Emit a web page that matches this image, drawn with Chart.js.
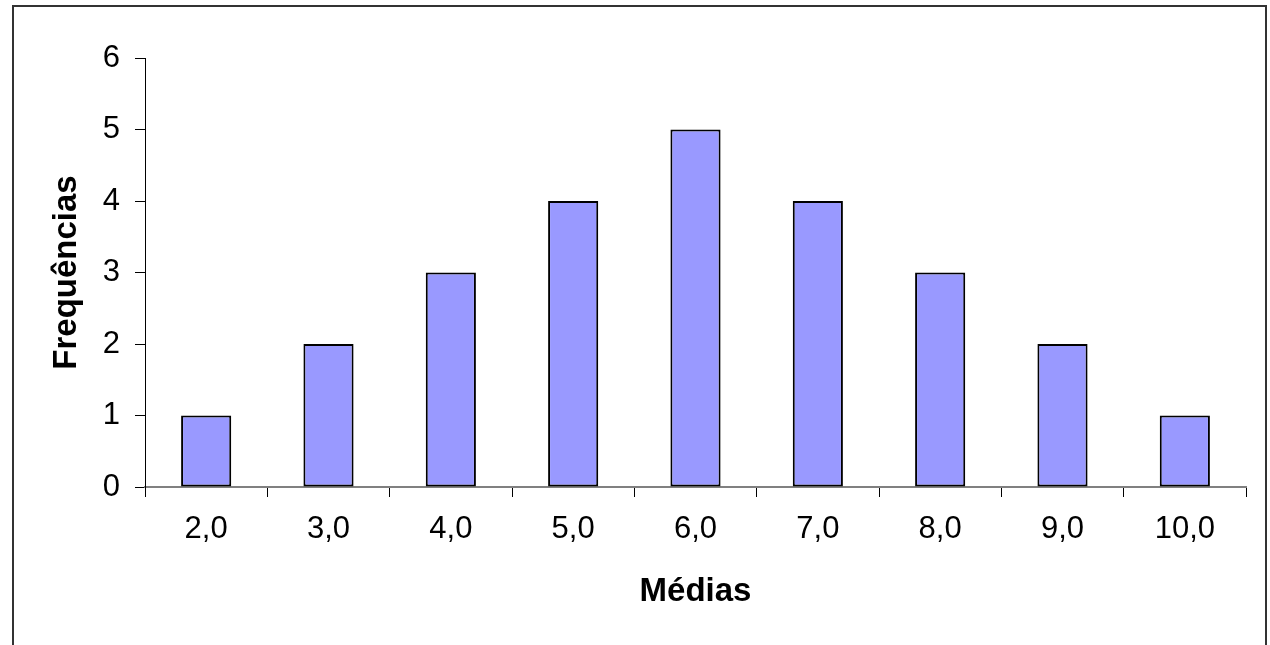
<!DOCTYPE html>
<html>
<head>
<meta charset="utf-8">
<script src="https://cdn.jsdelivr.net/npm/chart.js@4/dist/chart.umd.min.js"></script>
<style>
  html, body { margin: 0; padding: 0; background: #fff; }
  #wrap { position: relative; width: 1270px; height: 645px; }
</style>
</head>
<body>
<div id="wrap"><canvas id="c" width="1270" height="645"></canvas></div>
<script>
// Frequência das médias
const categories = ['2,0', '3,0', '4,0', '5,0', '6,0', '7,0', '8,0', '9,0', '10,0'];
const frequencias = [1, 2, 3, 4, 5, 4, 3, 2, 1];
const yTicks = [0, 1, 2, 3, 4, 5, 6];

const FONT = '"Liberation Sans", Arial, sans-serif';

// Moldura externa do gráfico
const framePlugin = {
  id: 'frame',
  afterDraw(chart) {
    const ctx = chart.ctx;
    ctx.save();
    ctx.strokeStyle = '#333';
    ctx.lineWidth = 2;
    ctx.beginPath();
    ctx.moveTo(13, 700);
    ctx.lineTo(13, 6);
    ctx.lineTo(1266, 6);
    ctx.lineTo(1266, 700);
    ctx.stroke();
    ctx.restore();
  }
};

new Chart(document.getElementById('c'), {
  type: 'bar',
  data: {
    labels: categories,
    datasets: [{
      data: frequencias,
      backgroundColor: '#9999FF',
      borderColor: '#000',
      borderWidth: 2,
      borderSkipped: false,
      categoryPercentage: 1,
      barPercentage: 0.41
    }]
  },
  options: {
    responsive: false,
    animation: false,
    events: [],
    layout: { padding: { left: 0, top: 58, right: 24, bottom: 0 } },
    plugins: { legend: { display: false }, tooltip: { enabled: false } },
    scales: {
      x: {
        offset: true,
        grid: { display: true, drawOnChartArea: false, offset: true, tickLength: 10, color: '#000', lineWidth: 1 },
        border: { display: true, color: '#808080', width: 2 },
        ticks: { color: '#000', font: { family: FONT, size: 31 }, padding: 14, maxRotation: 0 },
        title: { display: true, text: 'Médias', color: '#000', font: { family: FONT, size: 33, weight: 'bold' }, padding: { top: 0, bottom: 33 } },
        afterFit(scale) { scale.height = 158; }
      },
      y: {
        min: 0,
        max: 6,
        afterBuildTicks(scale) { scale.ticks = yTicks.map(v => ({ value: v })); },
        grid: { display: true, drawOnChartArea: false, tickLength: 10, color: '#000', lineWidth: 1 },
        border: { display: true, color: '#000', width: 1 },
        ticks: { color: '#000', font: { family: FONT, size: 31 }, padding: 15 },
        title: { display: true, text: 'Frequências', color: '#000', font: { family: FONT, size: 33, weight: 'bold' }, padding: { top: 47, bottom: 0 } },
        afterFit(scale) { scale.width = 145; }
      }
    }
  },
  plugins: [framePlugin]
});
</script>
</body>
</html>
